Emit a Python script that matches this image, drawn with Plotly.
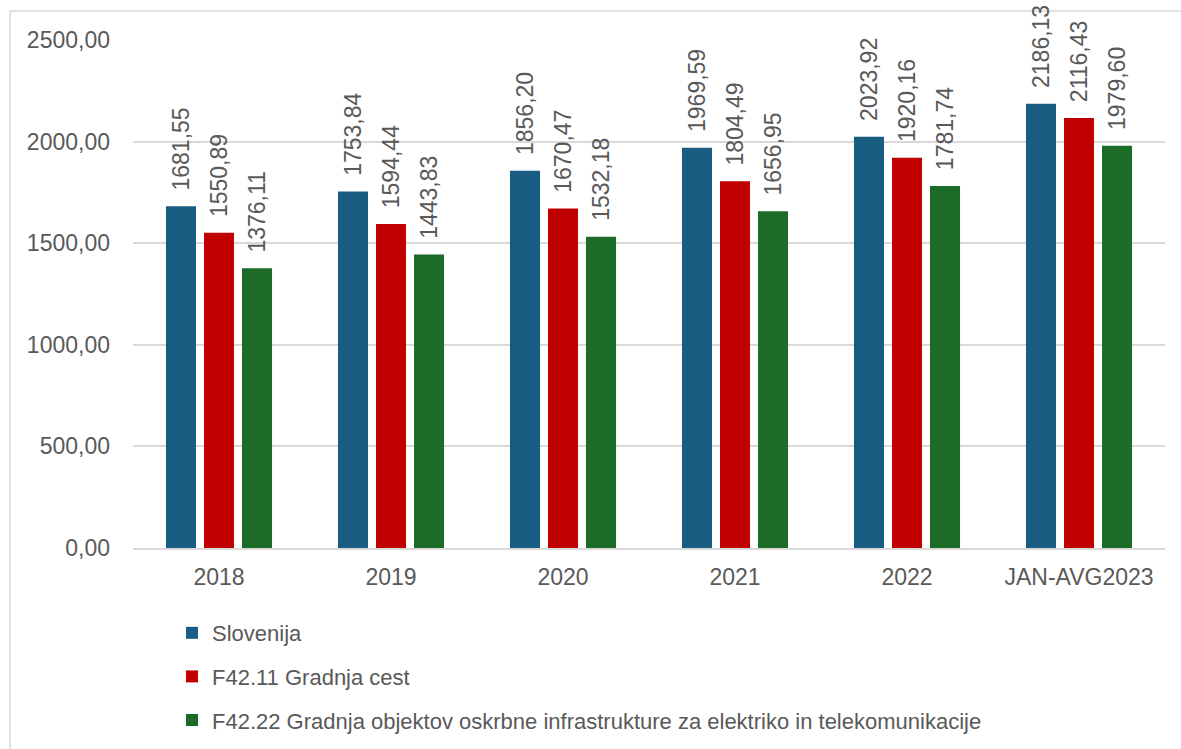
import plotly.graph_objects as go

categories = ["2018", "2019", "2020", "2021", "2022", "JAN-AVG2023"]
series_names = [
    "Slovenija",
    "F42.11 Gradnja cest",
    "F42.22 Gradnja objektov oskrbne infrastrukture za elektriko in telekomunikacije",
]
slovenija = [1681.55, 1753.84, 1856.20, 1969.59, 2023.92, 2186.13]
gradnja_cest = [1550.89, 1594.44, 1670.47, 1804.49, 1920.16, 2116.43]
gradnja_objektov = [1376.11, 1443.83, 1532.18, 1656.95, 1781.74, 1979.60]
colors = ["#195E82", "#C00000", "#1C6B26"]

L, R, T, B = 133, 16, 40, 201
PW, PH = 1181 - L - R, 749 - T - B

fig = go.Figure()
for i, (name, vals) in enumerate(zip(series_names, [slovenija, gradnja_cest, gradnja_objektov])):
    fig.add_trace(go.Bar(
        x=categories, y=vals, name=name,
        marker=dict(color=colors[i], line=dict(width=0)),
        texttemplate="\u00a0\u00a0%{y:.2f}", textposition="outside", textangle=-90,
        constraintext="none",
        textfont=dict(family="Liberation Sans, Arial", size=23, color="#595959"),
        cliponaxis=False, legendgroup=f"g{i}",
    ))

fig.update_layout(
    width=1181, height=749,
    paper_bgcolor="white", plot_bgcolor="white",
    separators=", ",
    barmode="group", bargap=0.337, bargroupgap=0.21,
    margin=dict(l=L, r=R, t=T, b=B, autoexpand=False),
    font=dict(family="Liberation Sans, Arial", size=23, color="#595959"),
    showlegend=True,
    legend=dict(
        orientation="v", x=(172 - L) / PW, y=(PH + T - 612) / PH,
        xanchor="left", yanchor="top",
        font=dict(family="Liberation Sans, Arial", size=22, color="#595959"),
        tracegroupgap=12, itemwidth=30,
    ),
    yaxis=dict(range=[0, 2500], dtick=500, tickformat=".2f", showgrid=True,
               gridcolor="#D9D9D9", gridwidth=1.5, zeroline=False, showline=False,
               ticks="", ticklabelstandoff=22, fixedrange=True),
    xaxis=dict(showline=True, linecolor="#D9D9D9", linewidth=1.5, ticks="",
               ticklabelstandoff=8),
    shapes=[dict(type="rect", xref="paper", yref="paper",
                 x0=(10 - L) / PW, x1=1.2, y0=-0.6, y1=1 + (T - 11) / PH,
                 line=dict(color="#D9D9D9", width=1.5), fillcolor="rgba(0,0,0,0)",
                 layer="below")],
)

fig.write_html("out.html", config={"displayModeBar": False},
               post_script="document.body.style.margin='0';document.body.style.padding='0';")
